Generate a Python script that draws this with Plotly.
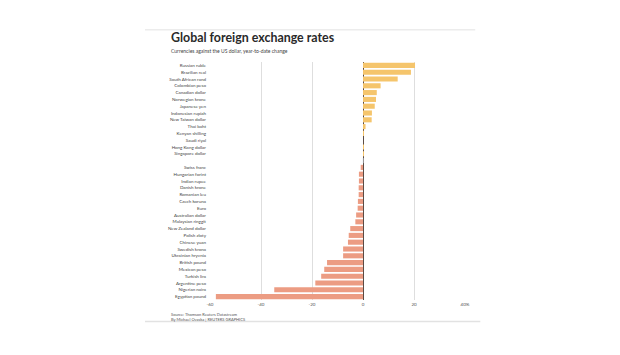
import plotly.graph_objects as go

pos_names = ["Russian ruble", "Brazilian real", "South African rand", "Colombian peso",
             "Canadian dollar", "Norwegian krone", "Japanese yen", "Indonesian rupiah",
             "New Taiwan dollar", "Thai baht", "Kenyan shilling", "Saudi riyal",
             "Hong Kong dollar", "Singapore dollar"]
pos_values = [20.4, 18.8, 13.6, 6.9, 5.4, 5.1, 4.6, 3.5, 3.4, 1.0, 0.15, 0.0, 0.05, 0.1]

neg_names = ["Swiss franc", "Hungarian forint", "Indian rupee", "Danish krone", "Romanian leu",
             "Czech koruna", "Euro", "Australian dollar", "Malaysian ringgit",
             "New Zealand dollar", "Polish zloty", "Chinese yuan", "Swedish krona",
             "Ukrainian hryvnia", "British pound", "Mexican peso", "Turkish lira",
             "Argentine peso", "Nigerian naira", "Egyptian pound"]
neg_values = [-0.9, -1.6, -1.6, -1.7, -1.7, -2.0, -2.1, -2.7, -3.0, -5.0, -5.6, -5.9, -7.8,
              -7.8, -14.1, -15.2, -16.4, -18.7, -34.8, -57.7]

x_ticks = [-60, -40, -20, 0, 20, 40]
x_tick_labels = ["-60", "-40", "-20", "0", "20", "40%"]

gap_label = " "
categories = pos_names + [gap_label] + neg_names

fig = go.Figure()
fig.add_trace(go.Bar(y=pos_names, x=pos_values, orientation="h",
                     marker=dict(color="#f5c56c", line=dict(width=0)), showlegend=False))
fig.add_trace(go.Bar(y=neg_names, x=neg_values, orientation="h",
                     marker=dict(color="#ec9c83", line=dict(width=0)), showlegend=False))
fig.add_trace(go.Bar(y=[gap_label], x=[0], orientation="h", showlegend=False,
                     marker=dict(color="rgba(0,0,0,0)"), hoverinfo="skip"))

fig.update_layout(
    width=604, height=339,
    margin=dict(l=202, r=147, t=54, b=47),
    paper_bgcolor="white", plot_bgcolor="white",
    bargap=0.25, barmode="overlay",
    font=dict(family="Lato, sans-serif", color="#333"),
    xaxis=dict(range=[-60, 40], tickvals=x_ticks, ticktext=x_tick_labels,
               showgrid=True, gridcolor="#dedede", gridwidth=1,
               zeroline=True, zerolinecolor="#5b4b44", zerolinewidth=1.3,
               tickfont=dict(size=4.5, color="#555"), ticks="", fixedrange=True),
    yaxis=dict(categoryorder="array", categoryarray=categories,
               type="category", range=[len(categories) - 0.5, -0.5],
               tickfont=dict(size=4.5, color="#444"), ticks="", showgrid=False,
               ticklabelstandoff=3, fixedrange=True),
)

fig.add_annotation(text="<b>Global foreign exchange rates</b>", xref="paper", yref="paper",
                   x=-0.161, y=1.0, xanchor="left", yanchor="bottom", yshift=15,
                   showarrow=False, font=dict(size=12.4, color="#2a2a2a", family="Lato, sans-serif"))
fig.add_annotation(text="Currencies against the US dollar, year-to-date change", xref="paper",
                   yref="paper", x=-0.161, y=1.0, xanchor="left", yanchor="bottom", yshift=6,
                   showarrow=False, font=dict(size=5, color="#444"))
fig.add_annotation(text="Source: Thomson Reuters Datastream<br>By Michael Ovaska | REUTERS GRAPHICS",
                   xref="paper", yref="paper", x=-0.161, y=0, xanchor="left", yanchor="top",
                   yshift=-10, align="left", showarrow=False, font=dict(size=4, color="#555"))

fig.add_shape(type="line", xref="paper", yref="paper", x0=-0.255, x1=1.04, y0=1.135, y1=1.135,
              line=dict(color="#ececec", width=1.5))
fig.add_shape(type="line", xref="paper", yref="paper", x0=-0.255, x1=1.06, y0=-0.09, y1=-0.09,
              line=dict(color="#e2e2e2", width=1.5))

fig.write_html("out.html")
